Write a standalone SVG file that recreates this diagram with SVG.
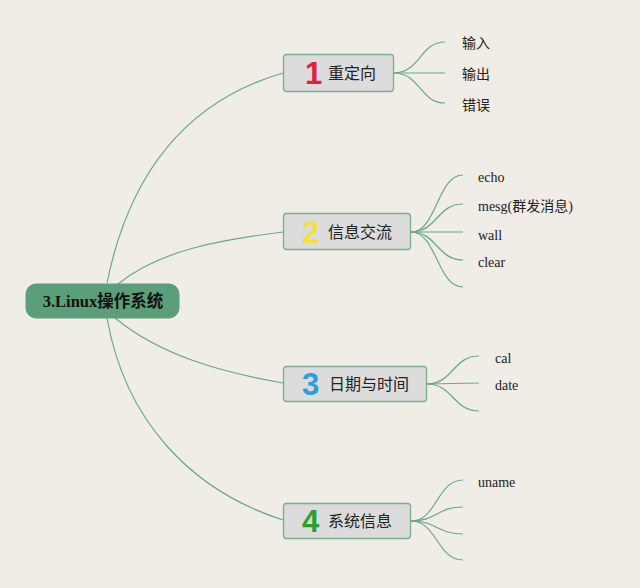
<svg xmlns="http://www.w3.org/2000/svg" width="640" height="588" viewBox="0 0 640 588">
<style>
.bg{fill:#f0ece6}
.ln{fill:none;stroke:#6aa88c;stroke-width:1.2}
.root{fill:#5b9e7a;stroke:#5b9e7a}
.rt{font-family:"Liberation Serif","Noto Sans CJK SC",serif;font-weight:bold;font-size:16.5px;fill:#111;text-anchor:middle}
.box{fill:#dcdcdc;stroke:#78ad96;stroke-width:1.3}
.num{font-family:"Liberation Sans","DejaVu Sans",sans-serif;font-weight:bold;font-size:31px}
.nt{font-family:"Noto Sans CJK SC",sans-serif;font-size:16px;fill:#222}
.lf{font-family:"Liberation Serif","Noto Sans CJK SC",serif;font-size:14px;fill:#222}
</style>
<rect class="bg" x="0" y="0" width="640" height="588"/>
<g id="connectors">
<path class="ln" d="M107,283 C130,170 190,100 283,73"/>
<path class="ln" d="M118,284 C160,250 220,240 283,232"/>
<path class="ln" d="M115,318 C160,355 220,372 283,383"/>
<path class="ln" d="M107,318 C125,420 190,490 283,520"/>
<path class="ln" d="M394,73 C420,73 420,42 445,42"/>
<path class="ln" d="M394,73 L445,73"/>
<path class="ln" d="M394,73 C420,73 420,103 445,103"/>
<path class="ln" d="M411,232 C437,232 437,175 463,175"/>
<path class="ln" d="M411,232 C437,232 437,204 463,204"/>
<path class="ln" d="M411,232 L463,232"/>
<path class="ln" d="M411,232 C437,232 437,260 463,260"/>
<path class="ln" d="M411,232 C437,232 437,287 463,287"/>
<path class="ln" d="M427,384 C453,384 453,356 479,356"/>
<path class="ln" d="M427,384 L479,383"/>
<path class="ln" d="M427,384 C453,384 453,411 479,411"/>
<path class="ln" d="M411,521 C437,521 437,480 463,480"/>
<path class="ln" d="M411,521 C437,521 437,507 463,507"/>
<path class="ln" d="M411,521 C437,521 437,534 463,534"/>
<path class="ln" d="M411,521 C437,521 437,560 463,560"/>
</g>
<g id="root">
<rect class="root" x="26" y="284" width="153" height="34" rx="10"/>
<text class="rt" x="103" y="307">3.Linux操作系统</text>
</g>
<g id="n1">
<rect class="box" x="283.5" y="54.5" width="110" height="37" rx="3"/>
<text class="num" x="305" y="84" fill="#e0203c">1</text>
<text class="nt" x="328" y="79">重定向</text>
</g>
<g id="n2">
<rect class="box" x="283.5" y="213.5" width="127" height="36" rx="3"/>
<text class="num" x="302" y="243" fill="#f2e03c">2</text>
<text class="nt" x="328" y="238">信息交流</text>
</g>
<g id="n3">
<rect class="box" x="283.5" y="366.5" width="143" height="35" rx="3"/>
<text class="num" x="302" y="395" fill="#2a9ee0">3</text>
<text class="nt" x="329" y="390">日期与时间</text>
</g>
<g id="n4">
<rect class="box" x="283.5" y="503.5" width="127" height="35" rx="3"/>
<text class="num" x="302" y="532" fill="#2aa02e">4</text>
<text class="nt" x="328" y="527">系统信息</text>
</g>
<g id="leaves">
<text class="lf" x="462" y="48">输入</text>
<text class="lf" x="462" y="79">输出</text>
<text class="lf" x="462" y="110">错误</text>
<text class="lf" x="478" y="182">echo</text>
<text class="lf" x="478" y="211">mesg(群发消息)</text>
<text class="lf" x="478" y="240">wall</text>
<text class="lf" x="478" y="267">clear</text>
<text class="lf" x="495" y="363">cal</text>
<text class="lf" x="495" y="390">date</text>
<text class="lf" x="478" y="487">uname</text>
</g>
</svg>
